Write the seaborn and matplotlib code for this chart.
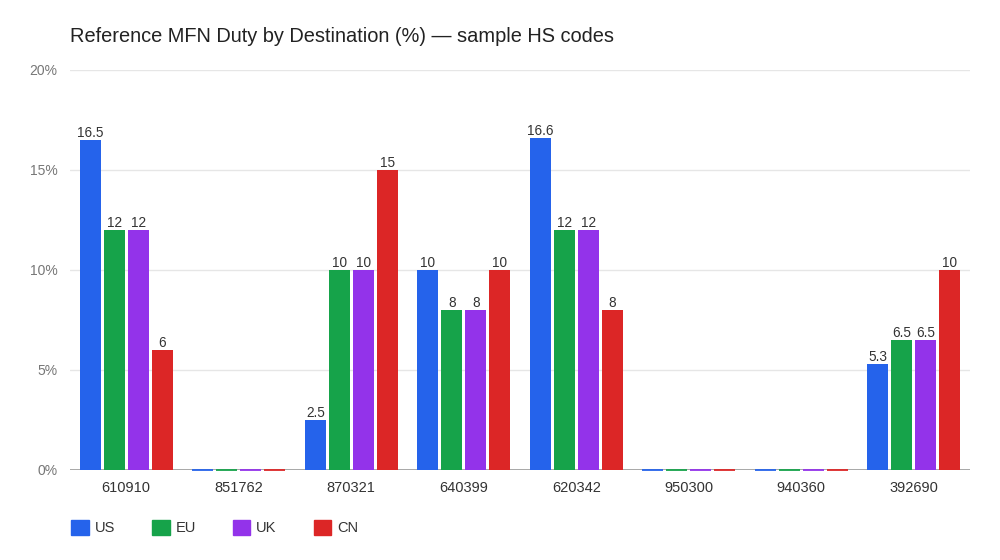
import pandas as pd
import matplotlib.pyplot as plt
import seaborn as sns
from matplotlib.patches import Patch

hs_codes = ['610910', '851762', '870321', '640399', '620342', '950300', '940360', '392690']
destinations = ['US', 'EU', 'UK', 'CN']
us = [16.5, 0, 2.5, 10, 16.6, 0, 0, 5.3]
eu = [12, 0, 10, 8, 12, 0, 0, 6.5]
uk = [12, 0, 10, 8, 12, 0, 0, 6.5]
cn = [6, 0, 15, 10, 8, 0, 0, 10]
colors = ['#2563eb', '#16a34a', '#9333ea', '#dc2626']

df = pd.DataFrame({'hs': hs_codes * 4,
                   'dest': [d for d in destinations for _ in hs_codes],
                   'duty': us + eu + uk + cn})

sns.set_theme(style='white')
plt.rcParams['font.family'] = ['Liberation Sans', 'DejaVu Sans']

fig = plt.figure(figsize=(10, 5.6), dpi=100)
ax = fig.add_axes([0.07, 0.161, 0.9, 0.714])

sns.barplot(data=df, x='hs', y='duty', hue='dest', hue_order=destinations,
            palette=colors, width=0.85, gap=0.13, ax=ax, legend=False,
            linewidth=0, saturation=1)
# zero values still show as a thin coloured line on the baseline
for bar in ax.patches:
    bar.set_zorder(3)
    bar.set_clip_on(False)
    if bar.get_height() == 0:
        bar.set_edgecolor(bar.get_facecolor())
        bar.set_linewidth(1.3)

for cont in ax.containers:
    labels = ['%g' % v if v > 0 else '' for v in cont.datavalues]
    ax.bar_label(cont, labels=labels, padding=0, fontsize=9.8, color='#333333')

ax.set_ylim(0, 20)
ax.set_xlim(-0.5, len(hs_codes) - 0.5)
ax.set_yticks([0, 5, 10, 15, 20])
ax.set_yticklabels(['0%', '5%', '10%', '15%', '20%'])
ax.yaxis.grid(True, color='#e6e6e6', linewidth=1)
ax.set_axisbelow(True)
ax.axhline(0, color='#999999', linewidth=1.2, zorder=1)
for s in ax.spines.values():
    s.set_visible(False)
ax.tick_params(axis='y', colors='#777777', labelsize=10, length=0, pad=9)
ax.tick_params(axis='x', colors='#333333', labelsize=10.5, length=0, pad=8)
ax.set_xlabel('')
ax.set_ylabel('')

fig.text(0.07, 0.935, 'Reference MFN Duty by Destination (%) \u2014 sample HS codes',
         fontsize=14.4, color='#222222', va='center')

handles = [Patch(facecolor=c, edgecolor=c) for c in colors]
fig.legend(handles, destinations, loc='center left', bbox_to_anchor=(0.058, 0.058),
           ncol=4, frameon=False, fontsize=10.5, handlelength=1.2, handleheight=1.2,
           handletextpad=0.4, columnspacing=2.55, labelcolor='#333333')

plt.savefig('out.png', dpi=100)
